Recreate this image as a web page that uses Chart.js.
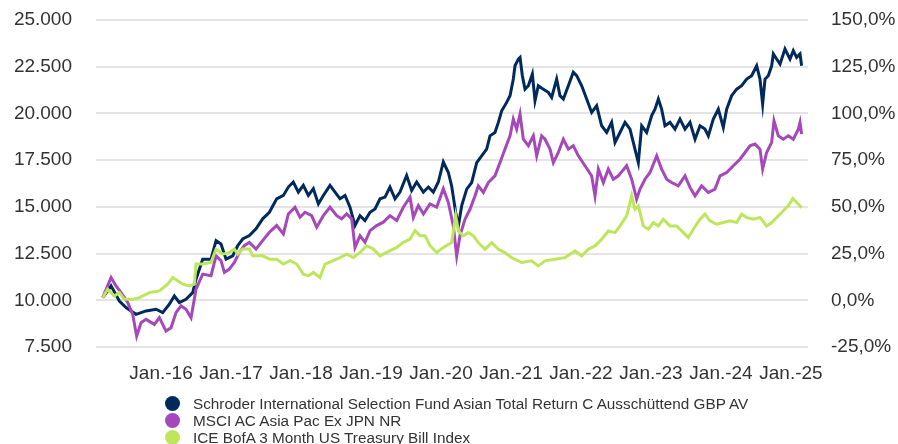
<!DOCTYPE html>
<html>
<head>
<meta charset="utf-8">
<title>Wertentwicklung</title>
<script src="https://cdn.jsdelivr.net/npm/chart.js@4.4.1/dist/chart.umd.min.js"></script>
<style>
  body { margin: 0; background: #fff; font-family: "Liberation Sans", Arial, sans-serif; }
  #wrap { position: relative; width: 898px; height: 444px; overflow: hidden; }
  #legend { position: absolute; left: 165px; top: 395px; color: #333; font-size: 15.3px; }
  .row { display: flex; align-items: center; height: 17px; white-space: nowrap; }
  .dot { width: 15px; height: 15px; border-radius: 50%; margin-right: 13px; flex: none; }
</style>
</head>
<body>
<div id="wrap">
  <canvas id="chart"></canvas>
  <div id="legend"></div>
</div>
<script>
// series names and colours (legend order)
const seriesNames = [
    "Schroder International Selection Fund Asian Total Return C Ausschüttend GBP AV",
    "MSCI AC Asia Pac Ex JPN NR",
    "ICE BofA 3 Month US Treasury Bill Index"
];
const seriesColors = ["#002a5c", "#a548b9", "#bee65c"];

// axis ticks
const tickYears = [2016, 2017, 2018, 2019, 2020, 2021, 2022, 2023, 2024, 2025];
const xTickLabels = ["Jan.-16", "Jan.-17", "Jan.-18", "Jan.-19", "Jan.-20", "Jan.-21", "Jan.-22", "Jan.-23", "Jan.-24", "Jan.-25"];
const leftTickLabels = ["7.500", "10.000", "12.500", "15.000", "17.500", "20.000", "22.500", "25.000"];
const rightTickLabels = ["-25,0%", "0,0%", "25,0%", "50,0%", "75,0%", "100,0%", "125,0%", "150,0%"];

// fund (dates as decimal years, values = growth of 10.000)
const fundDates = [2015.167, 2015.286, 2015.405, 2015.500, 2015.643, 2015.786, 2015.929, 2016.024, 2016.119, 2016.190,
    2016.262, 2016.357, 2016.452, 2016.500, 2016.595, 2016.714, 2016.786, 2016.857, 2016.929, 2017.024,
    2017.095, 2017.167, 2017.262, 2017.357, 2017.452, 2017.548, 2017.652, 2017.748, 2017.819, 2017.890,
    2017.962, 2018.033, 2018.105, 2018.176, 2018.248, 2018.319, 2018.414, 2018.486, 2018.557, 2018.629,
    2018.700, 2018.771, 2018.843, 2018.914, 2018.986, 2019.057, 2019.129, 2019.200, 2019.271, 2019.343,
    2019.414, 2019.509, 2019.581, 2019.652, 2019.748, 2019.819, 2019.890, 2019.962, 2020.033, 2020.105,
    2020.152, 2020.210, 2020.248, 2020.295, 2020.367, 2020.438, 2020.510, 2020.581, 2020.652, 2020.700,
    2020.771, 2020.819, 2020.867, 2020.938, 2020.986, 2021.033, 2021.057, 2021.105, 2021.129, 2021.162,
    2021.200, 2021.248, 2021.305, 2021.343, 2021.390, 2021.462, 2021.533, 2021.581, 2021.652, 2021.700,
    2021.748, 2021.819, 2021.890, 2021.938, 2022.010, 2022.081, 2022.152, 2022.224, 2022.295, 2022.367,
    2022.438, 2022.486, 2022.557, 2022.629, 2022.700, 2022.771, 2022.819, 2022.867, 2022.938, 2023.010,
    2023.057, 2023.105, 2023.152, 2023.200, 2023.271, 2023.343, 2023.414, 2023.486, 2023.557, 2023.629,
    2023.700, 2023.771, 2023.819, 2023.890, 2023.962, 2024.033, 2024.081, 2024.152, 2024.224, 2024.295,
    2024.367, 2024.438, 2024.510, 2024.557, 2024.595, 2024.629, 2024.676, 2024.724, 2024.748, 2024.795,
    2024.843, 2024.914, 2024.986, 2025.033, 2025.081, 2025.129, 2025.152];
const fundValues = [10140, 10770, 9960, 9610, 9250, 9430, 9520, 9340, 9790, 10230,
    9880, 10050, 10410, 11130, 12200, 12200, 13190, 13010, 12200, 12380,
    12920, 13280, 13460, 13820, 14360, 14710, 15430, 15610, 16060, 16330,
    15790, 16150, 15610, 15970, 15160, 15610, 16150, 15790, 15430, 15610,
    14980, 14000, 14530, 14270, 14710, 14890, 15430, 15520, 16060, 15430,
    15790, 16680, 15880, 16330, 15790, 16060, 15790, 16330, 17400, 16840,
    16120, 14700, 13980, 15050, 15950, 16300, 17370, 17730, 18090, 18800,
    18980, 19520, 20140, 20590, 20950, 21840, 22550, 22910, 23000, 22020,
    21300, 21480, 22110, 20680, 21480, 21300, 21130, 20860, 21840, 20950,
    20770, 21480, 22200, 22020, 21480, 20770, 20050, 20410, 19340, 18980,
    19520, 18450, 18980, 19520, 19160, 18090, 17370, 19340, 18980, 19880,
    20230, 20770, 20230, 19340, 19520, 19160, 19700, 19160, 19520, 18620,
    19340, 19160, 18800, 19700, 20230, 19250, 20230, 20950, 21300, 21480,
    21840, 22020, 22550, 21840, 20500, 21840, 22020, 22550, 23180, 22910,
    22640, 23450, 22910, 23360, 23000, 23180, 22550];

// MSCI AC Asia Pac ex Japan
const msciDates = [2015.167, 2015.286, 2015.357, 2015.429, 2015.524, 2015.595, 2015.652, 2015.714, 2015.786, 2015.905,
    2015.976, 2016.071, 2016.143, 2016.214, 2016.286, 2016.357, 2016.429, 2016.500, 2016.595, 2016.714,
    2016.786, 2016.857, 2016.905, 2016.976, 2017.048, 2017.119, 2017.190, 2017.262, 2017.357, 2017.452,
    2017.548, 2017.652, 2017.748, 2017.819, 2017.914, 2017.986, 2018.057, 2018.152, 2018.224, 2018.319,
    2018.414, 2018.510, 2018.581, 2018.652, 2018.724, 2018.771, 2018.843, 2018.914, 2018.986, 2019.081,
    2019.176, 2019.271, 2019.367, 2019.462, 2019.557, 2019.605, 2019.676, 2019.748, 2019.843, 2019.938,
    2020.033, 2020.105, 2020.176, 2020.224, 2020.271, 2020.343, 2020.414, 2020.486, 2020.533, 2020.605,
    2020.676, 2020.771, 2020.843, 2020.914, 2020.986, 2021.033, 2021.081, 2021.129, 2021.176, 2021.248,
    2021.319, 2021.367, 2021.438, 2021.486, 2021.557, 2021.605, 2021.676, 2021.748, 2021.819, 2021.890,
    2021.962, 2022.057, 2022.152, 2022.200, 2022.248, 2022.319, 2022.390, 2022.462, 2022.533, 2022.652,
    2022.724, 2022.795, 2022.843, 2022.914, 2022.986, 2023.081, 2023.152, 2023.224, 2023.295, 2023.390,
    2023.486, 2023.557, 2023.629, 2023.724, 2023.819, 2023.914, 2023.986, 2024.081, 2024.176, 2024.271,
    2024.343, 2024.414, 2024.486, 2024.557, 2024.595, 2024.652, 2024.724, 2024.757, 2024.819, 2024.890,
    2024.962, 2025.033, 2025.105, 2025.129, 2025.152];
const msciValues = [10140, 11220, 10770, 10410, 9880, 9250, 8080, 8800, 8980, 8710,
    9070, 8350, 8530, 9340, 9700, 9520, 9070, 10590, 11400, 11310,
    12380, 12120, 11490, 11670, 12030, 12560, 12920, 13100, 12740, 13190,
    13640, 14000, 13550, 14620, 14980, 14440, 14710, 14530, 13910, 14530,
    14980, 14530, 14360, 14620, 14360, 12830, 13460, 13100, 13730, 14000,
    14180, 14530, 14270, 14980, 15520, 14440, 15070, 14620, 15160, 14980,
    15970, 15230, 13980, 12370, 13450, 14340, 14870, 15590, 16120, 15770,
    16300, 16660, 17370, 18090, 18800, 19700, 19160, 19960, 18620, 18270,
    18800, 17730, 18800, 18620, 18090, 17370, 17910, 18620, 18090, 18270,
    17730, 17200, 16660, 15590, 17020, 16300, 17020, 16480, 16660, 17200,
    16480, 15410, 15950, 16480, 16840, 17730, 17020, 16480, 16300, 16120,
    16660, 16040, 15590, 16120, 15770, 15950, 16660, 16840, 17200, 17550,
    17910, 18270, 18360, 18090, 17020, 17910, 18450, 19610, 18800, 18620,
    18800, 18620, 19160, 19520, 18890];

// ICE BofA 3M US T-Bill (in GBP)
const tbillDates = [2015.167, 2015.238, 2015.333, 2015.405, 2015.476, 2015.595, 2015.690, 2015.833, 2015.976, 2016.095,
    2016.167, 2016.238, 2016.310, 2016.405, 2016.476, 2016.500, 2016.595, 2016.714, 2016.786, 2016.881,
    2016.976, 2017.048, 2017.095, 2017.167, 2017.262, 2017.310, 2017.452, 2017.548, 2017.652, 2017.748,
    2017.843, 2017.938, 2018.033, 2018.105, 2018.176, 2018.271, 2018.343, 2018.462, 2018.557, 2018.652,
    2018.748, 2018.843, 2018.938, 2019.033, 2019.129, 2019.224, 2019.367, 2019.462, 2019.557, 2019.629,
    2019.700, 2019.771, 2019.843, 2019.938, 2020.033, 2020.152, 2020.210, 2020.248, 2020.319, 2020.390,
    2020.462, 2020.533, 2020.629, 2020.724, 2020.819, 2020.914, 2021.010, 2021.152, 2021.295, 2021.390,
    2021.486, 2021.629, 2021.771, 2021.914, 2022.010, 2022.105, 2022.200, 2022.295, 2022.390, 2022.486,
    2022.557, 2022.652, 2022.724, 2022.771, 2022.819, 2022.890, 2022.962, 2023.033, 2023.105, 2023.176,
    2023.271, 2023.367, 2023.462, 2023.533, 2023.605, 2023.700, 2023.771, 2023.843, 2023.938, 2024.033,
    2024.129, 2024.224, 2024.295, 2024.367, 2024.462, 2024.557, 2024.652, 2024.724, 2024.819, 2024.890,
    2024.962, 2025.024, 2025.081, 2025.152];
const tbillValues = [10140, 10590, 10230, 10410, 10050, 10050, 10140, 10410, 10500, 10860,
    11220, 11040, 10860, 10770, 10860, 11940, 11940, 12030, 12740, 12470,
    12560, 12740, 12470, 12740, 12740, 12380, 12380, 12200, 12200, 11940,
    12120, 11940, 11400, 11310, 11490, 11220, 11940, 12120, 12290, 12470,
    12290, 12560, 12920, 12740, 12380, 12560, 12830, 13100, 13280, 13730,
    13460, 13460, 12920, 12560, 12830, 13090, 14520, 13710, 13450, 13620,
    13450, 13090, 12730, 13090, 12730, 12550, 12280, 12020, 12110, 11840,
    12110, 12200, 12280, 12640, 12370, 12730, 12910, 13270, 13710, 13620,
    13980, 14520, 15590, 14870, 15050, 13980, 13800, 14160, 13980, 14340,
    13980, 13980, 13620, 13360, 13800, 14340, 14610, 14250, 14070, 14160,
    14250, 14160, 14610, 14430, 14340, 14430, 13980, 14160, 14520, 14790,
    15050, 15450, 15230, 14960];

function toPoints(dates, values) {
    return dates.map((d, i) => ({ x: d, y: values[i] }));
}

const seriesData = [
    toPoints(fundDates, fundValues),
    toPoints(msciDates, msciValues),
    toPoints(tbillDates, tbillValues)
];

const axisFont = { family: "'Liberation Sans', Arial, sans-serif", size: 19 };

// fixed axis boxes; Chart.js adds tick padding to the vertical label overhang, drop it
function fitY(width) {
    return scale => {
        scale.width = width;
        scale.paddingTop = 0;
        scale.paddingBottom = 0;
    };
}

new Chart(document.getElementById("chart"), {
    type: "line",
    data: {
        datasets: seriesData.map((pts, i) => ({
            label: seriesNames[i],
            data: pts,
            borderColor: seriesColors[i],
            backgroundColor: seriesColors[i],
            borderWidth: 3,
            pointRadius: 0,
            tension: 0,
            fill: false,
            order: 2 - i  // T-bill line drawn on top
        }))
    },
    options: {
        responsive: true,
        maintainAspectRatio: false,
        animation: false,
        layout: { padding: { top: 20, left: 0, right: 0, bottom: 0 } },
        plugins: { legend: { display: false }, tooltip: { enabled: false } },
        scales: {
            x: {
                type: "linear",
                min: 2015.071,
                max: 2025.243,
                grid: { display: false },
                border: { display: false },
                afterBuildTicks: scale => { scale.ticks = tickYears.map(v => ({ value: v })); },
                afterFit: scale => { scale.height = 97; },
                ticks: {
                    autoSkip: false,
                    maxRotation: 0,
                    padding: 7,
                    color: "#333",
                    font: axisFont,
                    callback: (v, i) => xTickLabels[i]
                }
            },
            y: {
                position: "left",
                min: 7500,
                max: 25000,
                grid: { color: "#e4e4e4", lineWidth: 2, drawTicks: false },
                border: { display: false },
                afterFit: fitY(96),
                ticks: {
                    stepSize: 2500,
                    padding: 24,
                    color: "#333",
                    font: axisFont,
                    callback: (v, i) => leftTickLabels[i]
                }
            },
            y2: {
                position: "right",
                min: -25,
                max: 150,
                grid: { display: false, drawTicks: false },
                border: { display: false },
                afterFit: fitY(90),
                ticks: {
                    stepSize: 25,
                    padding: 23,
                    color: "#333",
                    font: axisFont,
                    callback: (v, i) => rightTickLabels[i]
                }
            }
        }
    }
});

// legend built from the same names/colours
const legend = document.getElementById("legend");
seriesNames.forEach((name, i) => {
    const row = document.createElement("div");
    row.className = "row";
    row.innerHTML = `<span class="dot" style="background:${seriesColors[i]}"></span><span>${name}</span>`;
    legend.appendChild(row);
});
</script>
</body>
</html>
